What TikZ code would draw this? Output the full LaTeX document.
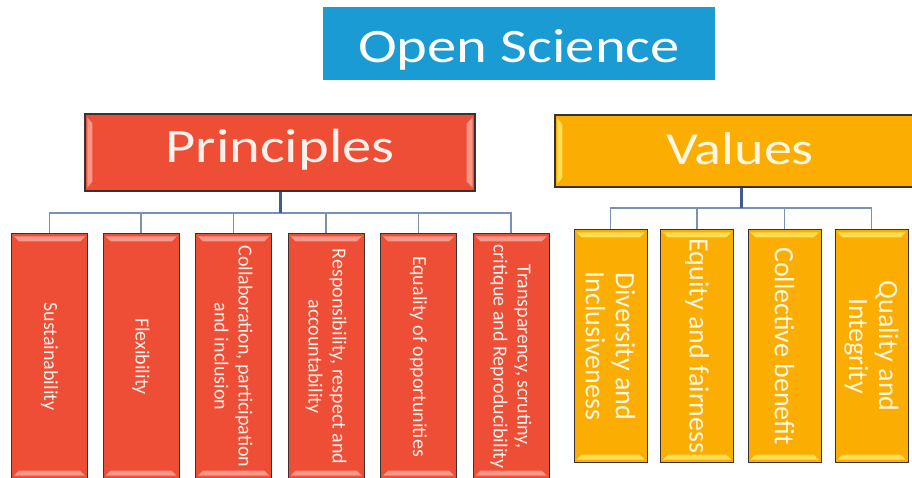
\documentclass[tikz,border=0pt]{standalone}
\usepackage{fontspec}
\setmainfont{Carlito}
\usetikzlibrary{calc}

\definecolor{osblue}{HTML}{1A9BD3}
\definecolor{prred}{HTML}{EE4D36}
\definecolor{prlight}{HTML}{F8A596}
\definecolor{vaorange}{HTML}{FCAD02}
\definecolor{valight}{HTML}{FFE55C}
\definecolor{edgedark}{HTML}{3B3130}
\definecolor{busline}{HTML}{7990B8}
\definecolor{stemline}{HTML}{3F5C8C}
\definecolor{prtext}{HTML}{FFF1EA}
\definecolor{vatext}{HTML}{FFF7E0}

\tikzset{
  titlebox/.style={fill=osblue, minimum width=392pt, minimum height=73pt, inner sep=0pt},
  titletext/.style={text=white, font=\fontsize{48}{56}\selectfont, inner sep=0pt},
  headbox/.style={draw=edgedark, line width=1.2pt, inner sep=0pt},
  prhead/.style={headbox, fill=prred, minimum width=390pt, minimum height=77pt},
  vahead/.style={headbox, fill=vaorange, minimum width=372pt, minimum height=72pt},
  headtext/.style={font=\fontsize{48}{56}\selectfont, inner sep=0pt, anchor=base},
  prchild/.style={draw=edgedark, line width=1pt, fill=prred, minimum width=76pt, minimum height=245pt, inner sep=0pt},
  vachild/.style={draw=edgedark, line width=1pt, fill=vaorange, minimum width=73pt, minimum height=232pt, inner sep=0pt},
  prctext/.style={rotate=-90, align=center, text=prtext, font=\fontsize{20}{24}\selectfont, inner sep=0pt},
  vactext/.style={rotate=-90, align=center, text=vatext, font=\fontsize{28}{30}\selectfont, inner sep=0pt},
  prbevel/.style={fill=prlight, fill opacity=0.85},
  vabevel/.style={fill=valight, fill opacity=0.9},
  stem/.style={draw=stemline, line width=3pt},
  bus/.style={draw=busline, line width=1.6pt},
}

\begin{document}
\begin{tikzpicture}[x=1pt,y=-1pt]
\useasboundingbox (0,0) rectangle (912,478);
\clip (0,0) rectangle (912,478);
\fill[white] (0,0) rectangle (912,478);

% heading banner
\node[titlebox] (os) at (519,43.5) {};
\node[titletext, anchor=base] (ost) at (519,63) {\scalebox{1.22}[1]{Open Science}};

% the two group heads
\node[prhead] (pr) at (280,152.5) {};
\node[vahead] (va) at (741,151) {};

% bus coordinates under each head
\coordinate (pbus) at (280,213);
\coordinate (vbus) at (741,208);

% principle boxes
\foreach \n/\x in {1/49.5,2/141,3/233.5,4/326,5/418.5,6/511}{
  \node[prchild] (p\n) at (\x,356.5) {};
  \draw[bus] (pbus) -| (p\n.north);
  \fill[prbevel] ($(p\n.north west)+(3,3)$) -- ($(p\n.north east)+(-3,3)$)
     -- ($(p\n.north east)+(-8,8)$) -- ($(p\n.north west)+(8,8)$) -- cycle;
  \fill[prbevel] ($(p\n.south west)+(3,-4)$) -- ($(p\n.south east)+(-3,-4)$)
     -- ($(p\n.south east)+(-8,-9)$) -- ($(p\n.south west)+(8,-9)$) -- cycle;
}
% value boxes
\foreach \n/\x in {1/610.5,2/697,3/784.5,4/871.5}{
  \node[vachild] (v\n) at (\x,346) {};
  \draw[bus] (vbus) -| (v\n.north);
  \fill[vabevel] ($(v\n.north west)+(3,3)$) -- ($(v\n.north east)+(-3,3)$)
     -- ($(v\n.north east)+(-8,8)$) -- ($(v\n.north west)+(8,8)$) -- cycle;
  \fill[vabevel] ($(v\n.south west)+(3,-3)$) -- ($(v\n.south east)+(-3,-3)$)
     -- ($(v\n.south east)+(-8,-8)$) -- ($(v\n.south west)+(8,-8)$) -- cycle;
}

% stems from the heads
\draw[stem] (pr.south) -- (pbus);
\draw[stem] (va.south) -- (vbus);

% side bevels of the heads
\foreach \h/\s in {pr/prbevel,va/vabevel}{
  \fill[\s] ($(\h.north west)+(3,4)$) -- ($(\h.north west)+(8,10)$)
     -- ($(\h.south west)+(8,-10)$) -- ($(\h.south west)+(3,-4)$) -- cycle;
  \fill[\s] ($(\h.north east)+(-3,4)$) -- ($(\h.north east)+(-9,10)$)
     -- ($(\h.south east)+(-9,-10)$) -- ($(\h.south east)+(-3,-4)$) -- cycle;
}

% head labels
\node[headtext, text=prtext] (prt) at (280,163) {\scalebox{1.22}[1]{Principles}};
\node[headtext, text=vatext] (vat) at (740,165) {\scalebox{1.22}[1]{\fontsize{46}{54}\selectfont Values}};

% principle labels
\node[prctext] (p1t) at (p1.center) {Sustainability};
\node[prctext] (p2t) at (p2.center) {Flexibility};
\node[prctext] (p3t) at (p3.center) {Collaboration, participation\\and inclusion};
\node[prctext] (p4t) at (p4.center) {Responsibility, respect and\\accountability};
\node[prctext] (p5t) at (p5.center) {Equality of opportunities};
\node[prctext] (p6t) at (p6.center) {Transparency, scrutiny,\\critique and Reproducibility};

% value labels
\node[vactext] (v1t) at (v1.center) {Diversity and\\Inclusiveness};
\node[vactext] (v2t) at (v2.center) {Equity and fairness};
\node[vactext] (v3t) at (v3.center) {Collective benefit};
\node[vactext] (v4t) at (v4.center) {Quality and\\Integrity};
\end{tikzpicture}
\end{document}
